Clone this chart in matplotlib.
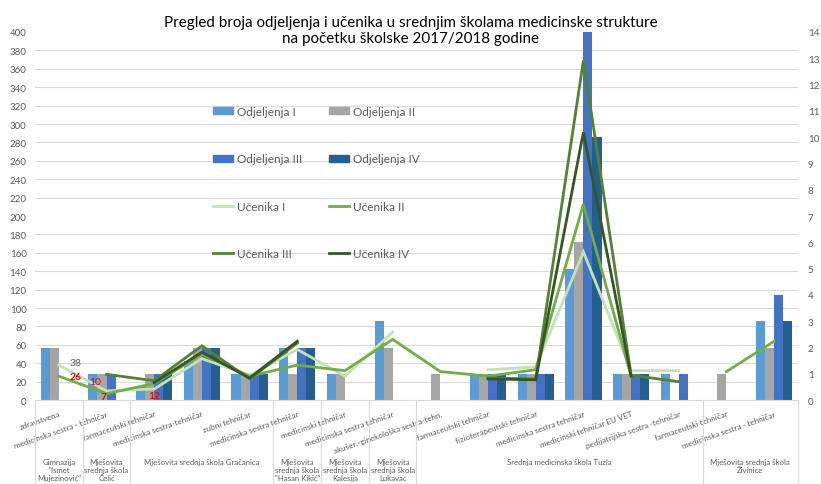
import numpy as np
import matplotlib
matplotlib.use("Agg")
import matplotlib.pyplot as plt
import matplotlib.transforms as mtransforms
from matplotlib.patches import Patch
from matplotlib.lines import Line2D

plt.rcParams["font.family"] = ["Lato", "DejaVu Sans"]

nan = np.nan

# smjerovi (prvi nivo ose) i škole (drugi nivo)
smjerovi = [
    "zdravstvena", "medicinska sestra - tehničar", "farmaceutski tehničar",
    "medicinska sestra-tehničar", "zubni tehničar", "medicinska sestra tehničar",
    "medicinski tehničar", "medicinska sestra tehničar",
    "akušer.-ginekološka sestra-tehn.", "farmaceutski tehničar",
    "fizioterapeutski tehničar", "medicinska sestra tehničar",
    "medicinski tehničar EU VET", "pedijatrijska sestra -tehničar",
    "farmaceutski tehničar", "medicinska sestra - tehničar",
]
skole = [
    'Gimnazija\n"Ismet\nMujezinović"',
    "Mješovita\nsrednja škola\nČelić",
    "Mješovita srednja škola Gračanica",
    'Mješovita\nsrednja škola\n"Hasan Kikić"',
    "Mješovita\nsrednja škola\nKalesija",
    "Mješovita\nsrednja škola\nLukavac",
    "Srednja medicinska škola Tuzla",
    "Mješovita srednja škola\nŽivinice",
]
smjerova_po_skoli = [1, 1, 3, 1, 1, 1, 6, 2]

# broj odjeljenja (desna osa)
odjeljenja_1 = [2, 1, 0.5, 1.5, 1, 2, 1, 3, 0, 1, 1, 5, 1, 1, 0, 3]
odjeljenja_2 = [2, 1, 1, 2, 1, 1, 1, 2, 1, 1, 1, 6, 1, 0, 1, 2]
odjeljenja_3 = [0, 1, 1, 2, 1, 2, 0, 0, 0, 1, 1, 14, 1, 1, 0, 4]
odjeljenja_4 = [0, 0, 1, 2, 1, 2, 0, 0, 0, 1, 1, 10, 1, 0, 0, 3]

# broj učenika (lijeva osa)
ucenika_1 = [38, 10, 12, 45, 27, 55, 26, 74, nan, 33, 36, 161, 32, 32, nan, nan]
ucenika_2 = [26, 7, 18, 50, 26, 38, 32, 66, 31, 26, 33, 213, 26, nan, 31, 64]
ucenika_3 = [nan, 28, 21, 59, 23, 62, nan, nan, nan, 24, 23, 369, 27, 20, nan, nan]
ucenika_4 = [nan, nan, 19, 52, 24, 64, nan, nan, nan, 23, 22, 291, 26, nan, nan, nan]

odj_boje = ["#5B9BD5", "#A5A5A5", "#4472C4", "#255E91"]
uc_boje = ["#C5E0B4", "#70AD47", "#548235", "#375623"]
siva = "#595959"

fig = plt.figure(figsize=(8.21, 4.85), dpi=100)
ax = fig.add_axes([0.0426, 0.173, 0.9294, 0.759])
ax2 = ax.twinx()
ax.set_zorder(ax2.get_zorder() + 1)
ax.patch.set_visible(False)

x = np.arange(len(smjerovi))
w = 0.19
odjeljenja = [odjeljenja_1, odjeljenja_2, odjeljenja_3, odjeljenja_4]
for i, (vals, c) in enumerate(zip(odjeljenja, odj_boje)):
    ax2.bar(x + (i - 1.5) * w, vals, w, color=c, zorder=2)

ucenika = [ucenika_1, ucenika_2, ucenika_3, ucenika_4]
for vals, c in zip(ucenika, uc_boje):
    ax.plot(x, vals, color=c, lw=2.0, solid_joinstyle="miter")

ax.set_ylim(0, 400)
ax2.set_ylim(0, 14)
ax.set_xlim(-0.5, len(smjerovi) - 0.5)

lijevi_ticks = np.arange(0, 401, 20)
ax.set_yticks(lijevi_ticks)
ax2.set_yticks(np.arange(0, 15, 1))
# mreža ide ispod stubaca
ax2.set_yticks(lijevi_ticks * 14 / 400, minor=True)
ax2.yaxis.grid(True, which="minor", color="#D9D9D9", lw=0.8)
ax2.set_axisbelow(True)

for a in (ax, ax2):
    for s in a.spines.values():
        s.set_visible(False)
    a.tick_params(axis="y", which="both", length=0, labelsize=7, labelcolor=siva)
ax.tick_params(axis="y", pad=6)
ax2.tick_params(axis="y", pad=7)
ax.spines["bottom"].set_visible(True)
ax.spines["bottom"].set_color("#D9D9D9")

ax.set_xticks(x)
ax.set_xticklabels(smjerovi, rotation=19, ha="right", va="top",
                   rotation_mode="anchor", fontsize=5.8, color=siva)
ax.tick_params(axis="x", length=0, pad=7)

# granice i nazivi škola
trans = mtransforms.blended_transform_factory(ax.transData, ax.transAxes)
granice = np.concatenate([[0], np.cumsum(smjerova_po_skoli)]) - 0.5
for g in granice:
    ax.plot([g, g], [0, -0.26], transform=trans, color="#D9D9D9", lw=0.8,
            clip_on=False)
for naziv, lo, hi in zip(skole, granice[:-1], granice[1:]):
    ax.text((lo + hi) / 2, -0.157, naziv, transform=trans, ha="center",
            va="top", fontsize=5.6, color=siva, linespacing=1.2)

# oznake podataka
ax.annotate("38", (0, ucenika_1[0]), xytext=(12, 2), textcoords="offset points",
            ha="center", va="center", fontsize=7.5, color=siva)
ax.annotate("26", (0, ucenika_2[0]), xytext=(12, 0), textcoords="offset points",
            ha="center", va="center", fontsize=7.5, color="red", fontweight="bold")
ax.annotate("10", (1, ucenika_1[1]), xytext=(-8, 7), textcoords="offset points",
            ha="center", va="center", fontsize=7.5, color="red")
ax.annotate("7", (1, ucenika_2[1]), xytext=(-2, -2), textcoords="offset points",
            ha="center", va="center", fontsize=7.5, color="red", fontweight="bold")
ax.annotate("12", (2, ucenika_1[2]), xytext=(0, -5), textcoords="offset points",
            ha="center", va="center", fontsize=7.5, color="red", fontweight="bold")

# legenda
h_odj = [Patch(color=c) for c in odj_boje]
h_uc = [Line2D([], [], color=c, lw=2.0) for c in uc_boje]
labele_odj = ["Odjeljenja I", "Odjeljenja II", "Odjeljenja III", "Odjeljenja IV"]
labele_uc = ["Učenika I", "Učenika II", "Učenika III", "Učenika IV"]
handles = [h_odj[0], h_odj[2], h_uc[0], h_uc[2], h_odj[1], h_odj[3], h_uc[1], h_uc[3]]
labels = [labele_odj[0], labele_odj[2], labele_uc[0], labele_uc[2],
          labele_odj[1], labele_odj[3], labele_uc[1], labele_uc[3]]
fig.legend(handles, labels, ncol=2, loc="upper left",
           bbox_to_anchor=(207 / 821, 1 - 101 / 485), frameon=False,
           fontsize=8.5, labelcolor=siva, handlelength=1.7, handleheight=0.55,
           handletextpad=0.34, labelspacing=3.08, columnspacing=2.3, borderpad=0)

fig.text(0.5, 1 - 16 / 485,
         "Pregled broja odjeljenja i učenika u srednjim školama medicinske strukture\n"
         "na početku školske 2017/2018 godine",
         ha="center", va="top", fontsize=10.9, color="black", linespacing=1.22)

fig.savefig("out.png", dpi=100)
